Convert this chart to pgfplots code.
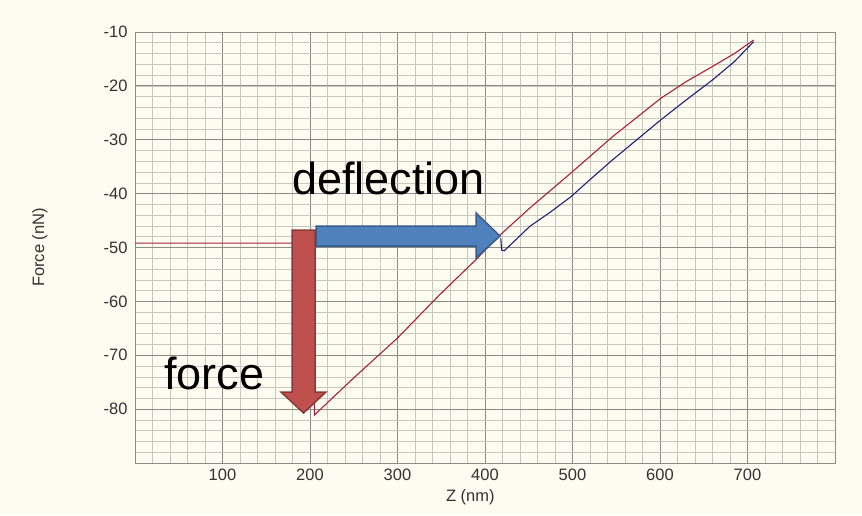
\documentclass[border=0pt]{standalone}
\usepackage{pgfplots}
\pgfplotsset{compat=1.18}
\usepackage{fontspec}
\setmainfont{Liberation Sans}
\definecolor{bgc}{RGB}{252,252,240}
\definecolor{majg}{RGB}{140,140,135}
\definecolor{ming}{RGB}{200,200,190}
\definecolor{appr}{RGB}{175,30,60}
\definecolor{retr}{RGB}{35,30,120}
\definecolor{arrblue}{RGB}{79,129,189}
\definecolor{arrblueb}{RGB}{56,93,138}
\definecolor{arrred}{RGB}{192,80,77}
\definecolor{arrredb}{RGB}{140,56,54}
\begin{document}
\begin{tikzpicture}[x=1pt,y=1pt]
\fill[bgc] (0,0) rectangle (862,515);
\path[use as bounding box] (0,0) rectangle (862,515);
\begin{axis}[
  at={(135pt,52pt)}, anchor=south west,
  scale only axis, width=700pt, height=431pt,
  xmin=0, xmax=800, ymin=-90, ymax=-10,
  xtick={100,200,...,700},
  ytick={-80,-70,...,-10},
  minor xtick={0,20,...,800},
  minor ytick={-90,-88,...,-10},
  major tick length=0pt, minor tick length=0pt,
  grid=both,
  major grid style={majg, line width=0.8pt},
  minor grid style={ming, line width=0.6pt},
  axis line style={majg, line width=0.9pt},
  axis background/.style={fill=bgc},
  /pgf/number format/assume math mode=true,
  tick label style={font=\fontsize{16.5}{19}\selectfont, text=black!80},
  yticklabel style={xshift=-4pt},
  xticklabel style={yshift=-2pt},
  xlabel={Z (nm)}, ylabel={Force (nN)},
  label style={font=\fontsize{16.5}{19}\selectfont, text=black!80},
  xlabel style={at={(axis description cs:0.479,-0.079)}, anchor=center},
  ylabel style={at={(axis description cs:-0.136,0.5)}, anchor=center, rotate=0},
]
% retract (blue)
\addplot[retr, line width=1.1pt] coordinates {
 (707,-11.8) (685,-15.5) (660,-18.9) (630,-22.6) (601,-26.3) (575,-29.8) (546,-33.7)
 (520,-37.4) (498,-40.6) (475,-43.4) (451,-46.1) (435,-48.6) (422,-50.6) (419,-50.5) (418,-48.3)
};
% approach (red)
\addplot[appr, line width=1.1pt] coordinates {
 (0,-49.2) (100,-49.2) (205,-49.2) (205,-81.1) (250,-74.2) (300,-66.8) (348,-58.8)
 (390,-52.2) (413,-48.3) (451,-42.7) (498,-36.2) (546,-29.4) (601,-22.3)
 (630,-19.2) (660,-16.4) (685,-14.0) (707,-11.5)
};
\end{axis}
% blue arrow (deflection)
\filldraw[fill=arrblue, draw=arrblueb, line width=1.5pt]
  (316,515-226) -- (476,515-226) -- (476,515-213) -- (500,515-236)
  -- (476,515-258) -- (476,515-246) -- (316,515-246) -- cycle;
% red arrow (force)
\filldraw[fill=arrred, draw=arrredb, line width=1.5pt]
  (292,515-230) -- (315,515-230) -- (315,515-392) -- (326,515-392)
  -- (303.5,515-413) -- (281,515-392) -- (292,515-392) -- cycle;
\node[anchor=base west, inner sep=0pt, font=\fontsize{45}{50}\selectfont] at (292,515-195) {deflection};
\node[anchor=base west, inner sep=0pt, font=\fontsize{45}{50}\selectfont] at (164,515-389) {force};
\end{tikzpicture}
\end{document}
